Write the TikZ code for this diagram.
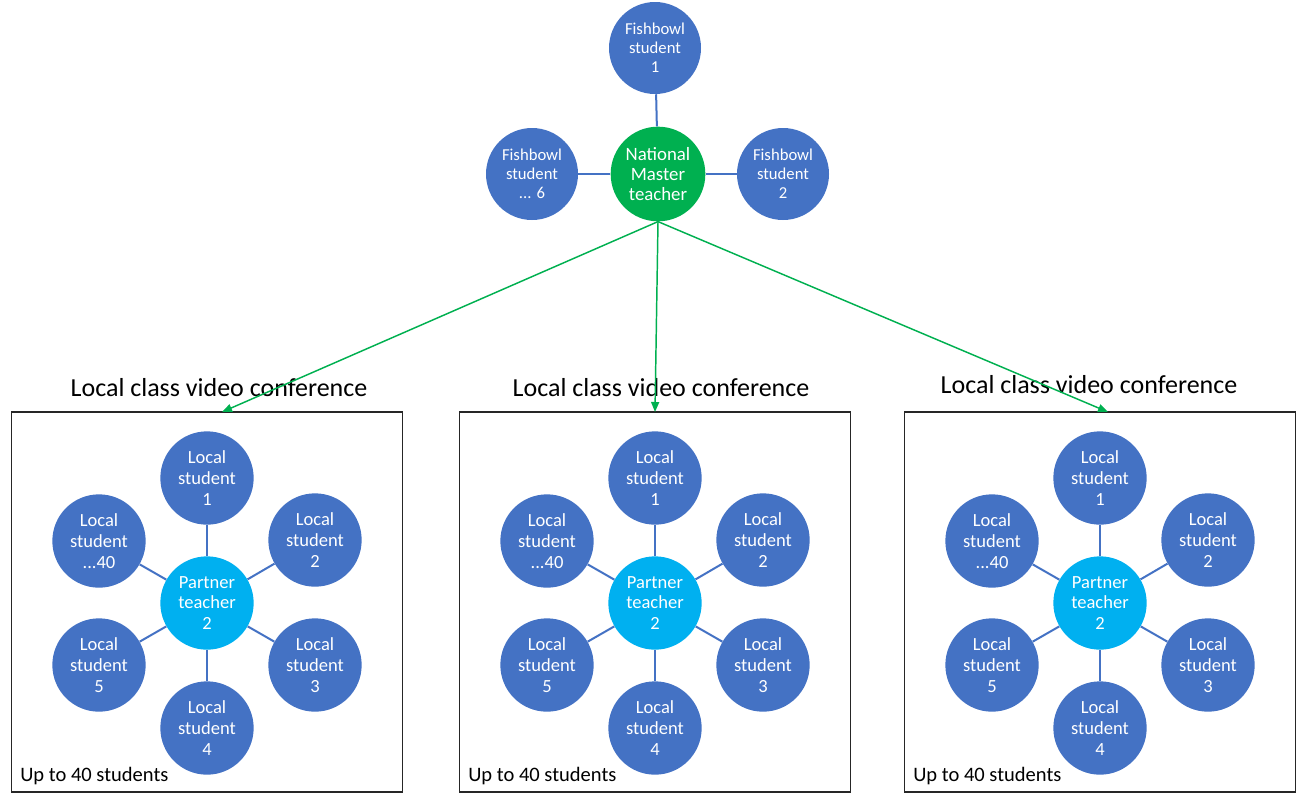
\documentclass[tikz,border=0pt]{standalone}
\usepackage{fontspec}
\setmainfont{Carlito}
\usetikzlibrary{arrows.meta}
\definecolor{stublue}{HTML}{4472C4}
\definecolor{partblue}{HTML}{00B0F0}
\definecolor{mastergreen}{HTML}{00B050}
\begin{document}
\begin{tikzpicture}[x=0.75pt,y=-0.75pt]
        \tikzset{student/.style = {shape=circle,fill=stublue,text=white,inner sep=0pt,minimum size=70pt,align=center,font=\fontsize{13.9}{15.6}\selectfont}}
        \tikzset{fishbowl/.style = {student,minimum size=69pt,font=\fontsize{12.5}{14.3}\selectfont}}
        \tikzset{partner/.style = {student,fill=partblue}}
        \tikzset{master/.style = {student,fill=mastergreen,minimum size=71pt,font=\fontsize{14.1}{15}\selectfont}}
        \tikzset{link/.style = {draw=stublue,line width=1.5pt}}
        \tikzset{feed/.style = {draw=mastergreen,line width=1.1pt,-{Triangle[length=7.5pt,width=6pt]}}}
        \tikzset{classbox/.style = {draw=black!85,line width=0.9pt}}
        \useasboundingbox (0,0) rectangle (1301,793);
        % national master teacher and the fishbowl
        \node[master] (nmt) at (658,174) {National\\Master\\teacher};
        \node[fishbowl] (f1) at (655,48) {Fishbowl\\student\\1};
        \node[fishbowl] (f2) at (783,174) {Fishbowl\\student\\2};
        \node[fishbowl] (f6) at (532,174) {Fishbowl\\student\\... 6};
        \draw[link] (nmt) to (f1);
        \draw[link] (nmt) to (f2);
        \draw[link] (nmt) to (f6);
        % local classes
        \foreach \b/\cx/\tx/\ty/\ax in {1/207/219/388/222, 2/655/661/388/655, 3/1100/1089/385/1108} {
          \draw[classbox] (\cx-195.5,412) rectangle (\cx+195.5,792);
          \node[font=\fontsize{19.5}{22}\selectfont] (t\b) at (\tx,\ty) {Local class video conference};
          \node[anchor=west,inner sep=0pt,font=\fontsize{15.4}{17}\selectfont] (u\b) at (\cx-187,776) {Up to 40 students};
          \node[partner] (p\b) at (\cx,603) {Partner\\teacher\\2};
          \node[student] (l\b-1) at (\cx,478) {Local\\student\\1};
          \node[student] (l\b-2) at (\cx+108,540) {Local\\student\\2};
          \node[student] (l\b-3) at (\cx+108,665) {Local\\student\\3};
          \node[student] (l\b-4) at (\cx,728) {Local\\student\\4};
          \node[student] (l\b-5) at (\cx-108,665) {Local\\student\\5};
          \node[student] (l\b-40) at (\cx-108,541) {Local\\student\\...40};
          \foreach \s in {1,2,3,4,5,40}
            \draw[link] (p\b) to (l\b-\s);
          \coordinate (e\b) at (\ax,412);
          \draw[feed] (nmt.south) to (e\b);
        }
\end{tikzpicture}
\end{document}
